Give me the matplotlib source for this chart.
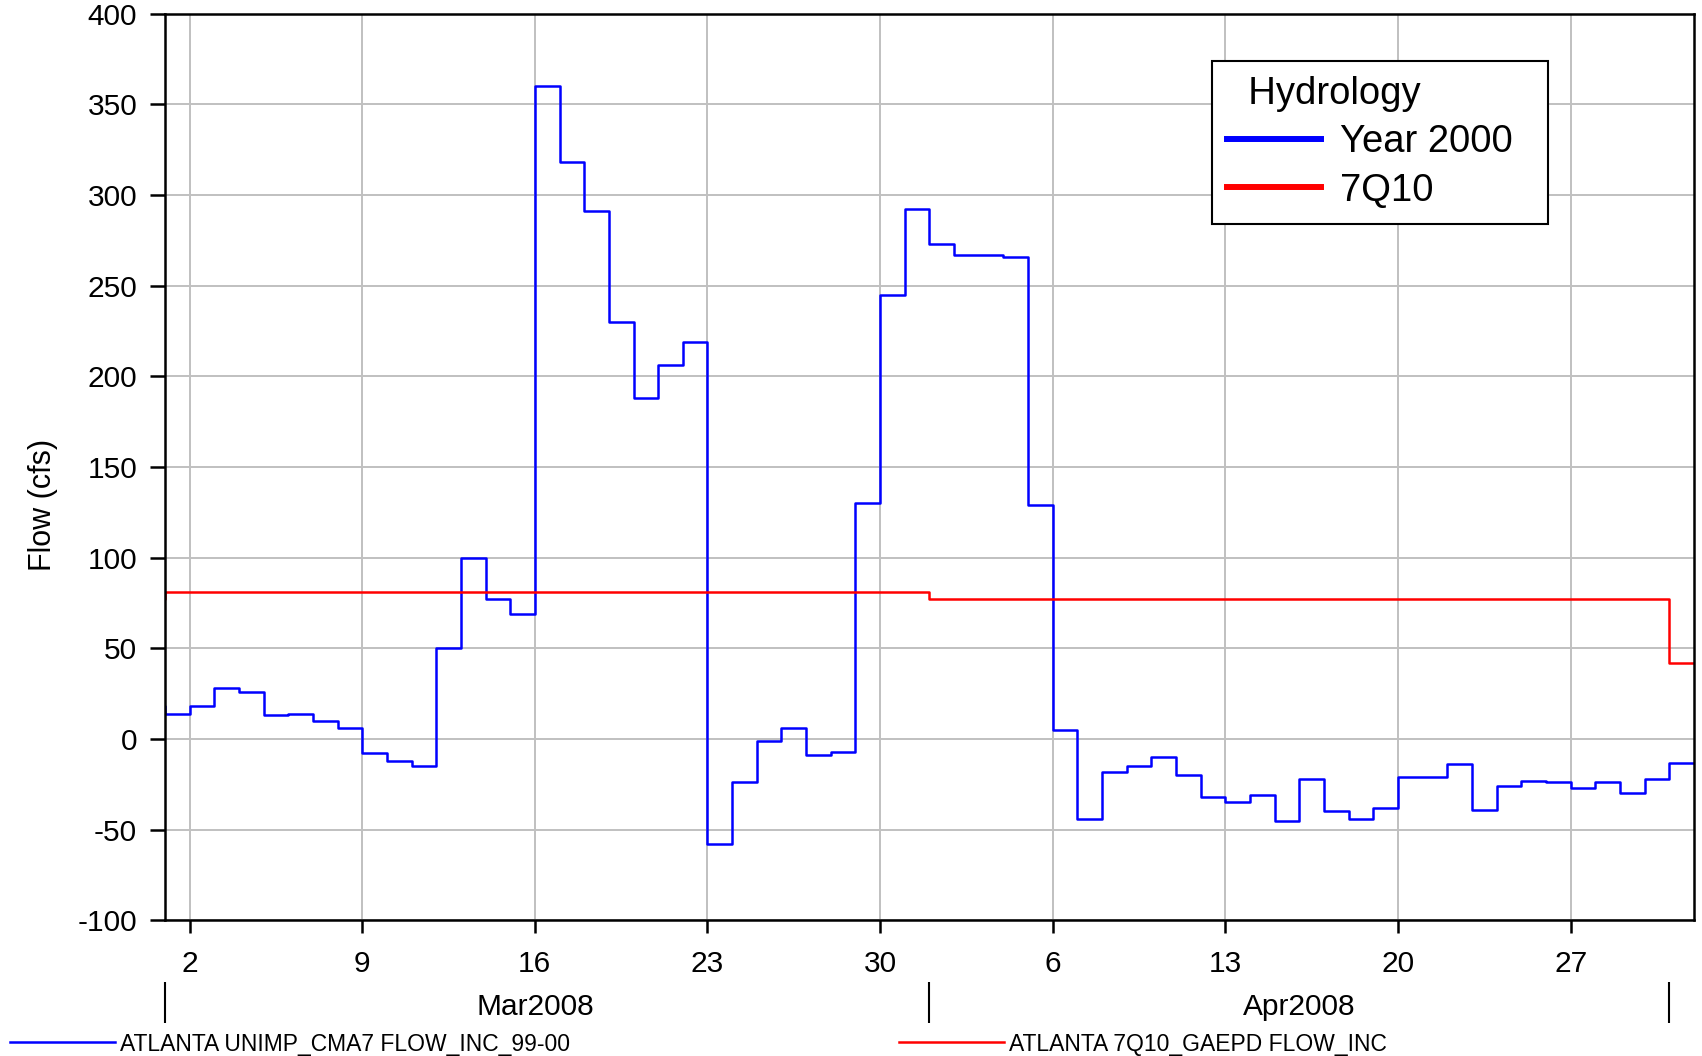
import numpy as np
import pandas as pd
import matplotlib
matplotlib.use("Agg")
import matplotlib.pyplot as plt
import matplotlib.dates as mdates

plt.rcParams['font.family'] = ['Liberation Sans', 'DejaVu Sans']
plt.rcParams['axes.unicode_minus'] = False

# daily values, Feb 29 2008 .. May 1 2008
days = pd.date_range('2008-02-29', '2008-05-01', freq='D')
year2000 = [18,
            14, 18, 28, 26, 13, 14, 10, 6, -8, -12, -15, 50, 100, 77, 69, 360,
            318, 291, 230, 188, 206, 219, -58, -24, -1, 6, -9, -7, 130, 245, 292,
            273, 267, 267, 266, 129, 5, -44, -18, -15, -10, -20, -32, -35, -31, -45,
            -22, -40, -44, -38, -21, -21, -14, -39, -26, -23, -24, -27, -24, -30, -22,
            -13]
q7_10 = [77] + [81] * 31 + [77] * 30 + [42]

week_ticks = pd.date_range('2008-03-02', periods=9, freq='7D')
week_labels = [str(d.day) for d in week_ticks]
month_edges = pd.to_datetime(['2008-03-01', '2008-04-01', '2008-05-01'])
month_mids = pd.to_datetime(['2008-03-16', '2008-04-16'])
month_labels = ['Mar2008', 'Apr2008']

x = list(days) + [days[-1] + pd.Timedelta(days=1)]
y_blue = year2000 + [year2000[-1]]
y_red = q7_10 + [q7_10[-1]]

fig = plt.figure(figsize=(17.02, 10.56), dpi=100)
ax = fig.add_axes([0.0969, 0.1285, 0.9953 - 0.0969, 0.9872 - 0.1285])

l1, = ax.step(x, y_blue, where='post', color='#0000ff', lw=1.8)
l2, = ax.step(x, y_red, where='post', color='#ff0000', lw=1.8)

ax.set_xlim(pd.Timestamp('2008-03-01'), pd.Timestamp('2008-05-02'))
ax.set_ylim(-100, 400)
ax.set_yticks(np.arange(-100, 401, 50))
ax.set_xticks(week_ticks)
ax.set_xticklabels(week_labels)
ax.grid(True, color='#c0c0c0', lw=1.4)
ax.set_axisbelow(True)
for s in ax.spines.values():
    s.set_linewidth(1.8)
    s.set_color('black')
ax.tick_params(axis='y', length=11, width=1.8, pad=9, labelsize=21.5)
ax.tick_params(axis='x', length=9.5, width=1.8, pad=12, labelsize=21.5)
ax.set_ylabel('Flow (cfs)', fontsize=22)
ax.yaxis.set_label_coords(-0.070, 0.458)

# month axis below the day axis
sec = ax.secondary_xaxis(-0.068)
sec.set_xticks(mdates.date2num(month_edges))
sec.set_xticklabels(['', '', ''])
sec.set_xticks(mdates.date2num(month_mids), minor=True)
sec.set_xticklabels(month_labels, minor=True)
sec.tick_params(axis='x', which='major', length=29.5, width=1.5, direction='out')
sec.tick_params(axis='x', which='minor', length=0, pad=8, labelsize=21.5)
for s in sec.spines.values():
    s.set_visible(False)

leg = ax.legend([l1, l2], ['Year 2000', '7Q10'], title='  Hydrology',
                loc='upper left',
                bbox_to_anchor=(1212 / 1702, 1 - 61 / 1056, (1548 - 1212) / 1702, 0),
                bbox_transform=fig.transFigure, mode='expand', borderaxespad=0,
                fontsize=27.5, title_fontsize=27.5, alignment='left',
                handlelength=2.45, handletextpad=0.5, labelspacing=0.32,
                borderpad=0.4, fancybox=False, framealpha=1, edgecolor='black')
leg.get_frame().set_linewidth(1.5)
for ln in leg.get_lines():
    ln.set_linewidth(4.3)

fig.legend([l1], ['ATLANTA UNIMP_CMA7 FLOW_INC_99-00'], loc='center left',
           bbox_to_anchor=(10 / 1702, 1 - 1044 / 1056), frameon=False,
           fontsize=16.5, handlelength=4.6, handletextpad=0.2,
           borderpad=0, borderaxespad=0)
fig.legend([l2], ['ATLANTA 7Q10_GAEPD FLOW_INC'], loc='center left',
           bbox_to_anchor=(899 / 1702, 1 - 1044 / 1056), frameon=False,
           fontsize=16.5, handlelength=4.6, handletextpad=0.2,
           borderpad=0, borderaxespad=0)

fig.savefig('out.png', dpi=100)
